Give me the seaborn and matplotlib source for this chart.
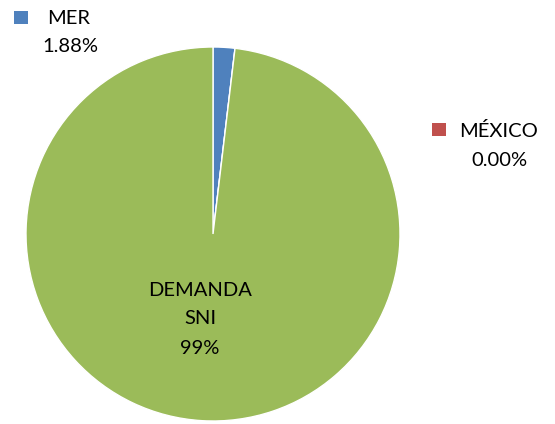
import matplotlib
matplotlib.use("Agg")
import matplotlib.pyplot as plt
import seaborn as sns
from matplotlib.patches import Rectangle

sns.set_theme(style="white")
plt.rcParams['font.family'] = ['Lato', 'DejaVu Sans']

categories = ["MER", "MÉXICO", "DEMANDA SNI"]
values = [1.88, 0.00, 98.12]
pct_labels = ["1.88%", "0.00%", "99%"]
colors = ["#4F81BD", "#C0504D", "#9BBB59"]

W, H = 555, 424
fig = plt.figure(figsize=(W / 100, H / 100), dpi=100)
fig.patch.set_facecolor("white")

cx, cy, r = 213, 234, 187
ax = fig.add_axes([(cx - r) / W, (H - cy - r) / H, 2 * r / W, 2 * r / H])
ax.pie(values, colors=colors, startangle=90, counterclock=False,
       wedgeprops=dict(edgecolor="white", linewidth=1))
ax.set_xlim(-1, 1)
ax.set_ylim(-1, 1)
ax.set_aspect("auto")
ax.axis("off")

def px(x, y):
    return x / W, 1 - y / H

fs = 14.5
# MER label
fig.patches.append(Rectangle(px(14, 24), 14 / W, 13 / H, transform=fig.transFigure,
                             facecolor=colors[0], edgecolor="none"))
fig.text(*px(47, 18), categories[0], ha="left", va="center", fontsize=fs, color="black")
fig.text(*px(70, 47), pct_labels[0], ha="center", va="center", fontsize=fs, color="black")

# MÉXICO label
fig.patches.append(Rectangle(px(432, 136), 14 / W, 13 / H, transform=fig.transFigure,
                             facecolor=colors[1], edgecolor="none"))
fig.text(*px(459, 131), categories[1], ha="left", va="center", fontsize=fs, color="black")
fig.text(*px(499, 160), pct_labels[1], ha="center", va="center", fontsize=fs, color="black")

# DEMANDA SNI label
fig.text(*px(200, 290), "DEMANDA", ha="center", va="center", fontsize=fs, color="black")
fig.text(*px(200, 319), "SNI", ha="center", va="center", fontsize=fs, color="black")
fig.text(*px(200, 348), pct_labels[2], ha="center", va="center", fontsize=fs, color="black")

fig.savefig("out.png", dpi=100, facecolor="white")
